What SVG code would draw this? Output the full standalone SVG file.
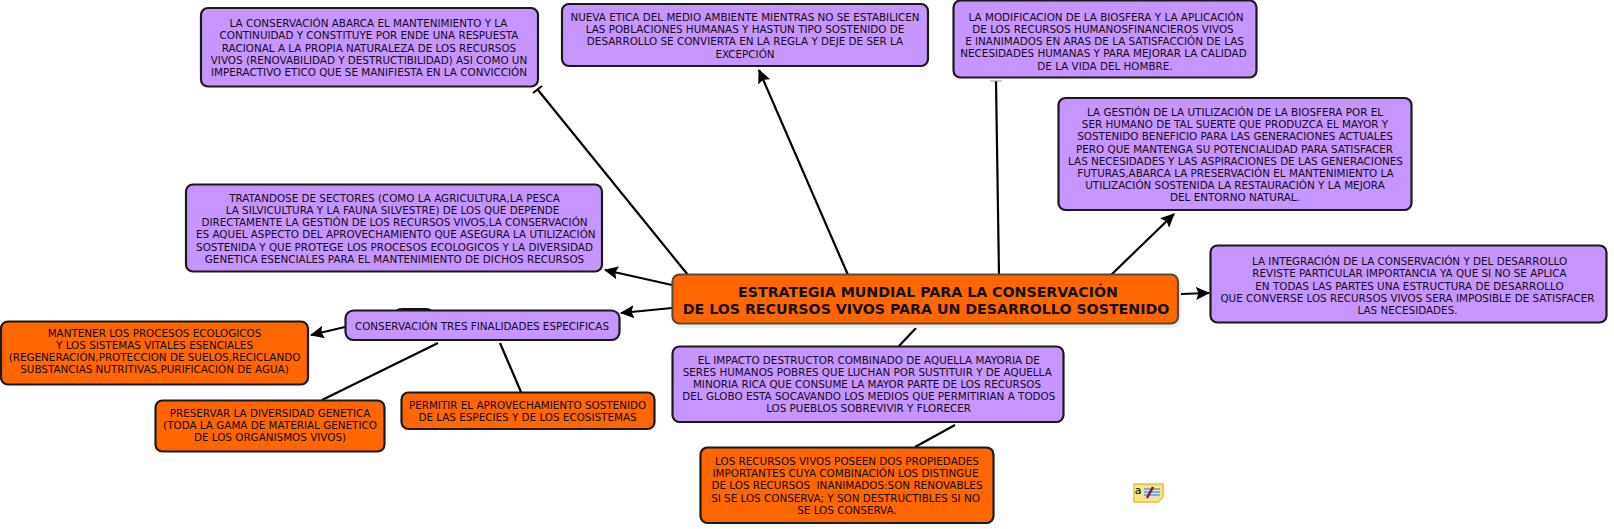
<svg xmlns="http://www.w3.org/2000/svg" width="1614" height="529" viewBox="0 0 1614 529">
<style>
.p{fill:#c596ff}.o{fill:#ff6600}
.b{stroke:#1a1a1a;stroke-width:2.2}
text{font-family:"DejaVu Sans",Verdana,sans-serif;font-size:10.38px;fill:#140a1e;text-anchor:middle;white-space:pre}
.t{font-weight:bold;font-size:14.2px;fill:#111}
.c line{stroke:#000;stroke-width:2.2}
.c .a{marker-end:url(#ah)}
</style>
<defs><marker id="ah" markerUnits="userSpaceOnUse" markerWidth="16" markerHeight="14" refX="13" refY="7" orient="auto"><path d="M0 0.500L14 7L0 13.500L2.500 7Z" fill="#000"/></marker></defs>
<g class="c" id="connectors">
<line x1="688" y1="275" x2="538" y2="90"/><path d="M533 93L542 86" stroke="#000" stroke-width="2.2" fill="none"/>
<line class="a" x1="848" y1="275" x2="759" y2="70"/>
<line x1="999" y1="275" x2="996" y2="81"/><path d="M990 81H1002" stroke="#999" stroke-width="1"/>
<line class="a" x1="1111" y1="275" x2="1174" y2="214"/>
<line class="a" x1="1181" y1="294" x2="1209" y2="293"/>
<line class="a" x1="672" y1="285" x2="605" y2="270"/>
<line class="a" x1="672" y1="308" x2="621" y2="313"/>
<line class="a" x1="345" y1="327" x2="311" y2="335"/>
<line x1="438" y1="343" x2="322" y2="400"/>
<line x1="500" y1="343" x2="521" y2="392"/>
<line x1="916" y1="328" x2="899" y2="346"/>
<line x1="955" y1="425" x2="915" y2="447"/>
<path d="M396 310Q398 308 402 308H426Q430 308 432 310Z" fill="#111"/>
</g>
<g id="n1"><rect class="p b" x="201" y="8" width="337" height="78.500" rx="7"/>
<text><tspan x="368.500" y="27">LA CONSERVACIÓN ABARCA EL MANTENIMIENTO Y LA</tspan><tspan x="369" y="39.300">CONTINUIDAD Y CONSTITUYE POR ENDE UNA RESPUESTA</tspan><tspan x="369" y="51.500">RACIONAL A LA PROPIA NATURALEZA DE LOS RECURSOS</tspan><tspan x="369" y="63.700">VIVOS (RENOVABILIDAD Y DESTRUCTIBILIDAD) ASI COMO UN</tspan><tspan x="369" y="75.900">IMPERACTIVO ETICO QUE SE MANIFIESTA EN LA CONVICCIÓN</tspan></text></g>
<g id="n2"><rect class="p b" x="562" y="4" width="366" height="62" rx="7"/>
<text><tspan x="745" y="21">NUEVA ETICA DEL MEDIO AMBIENTE MIENTRAS NO SE ESTABILICEN</tspan><tspan x="745" y="33">LAS POBLACIONES HUMANAS Y HASTUN TIPO SOSTENIDO DE</tspan><tspan x="745" y="45.200">DESARROLLO SE CONVIERTA EN LA REGLA Y DEJE DE SER LA</tspan><tspan x="745" y="57.500">EXCEPCIÓN</tspan></text></g>
<g id="n3"><rect class="p b" x="953.500" y="0.500" width="303" height="77" rx="7"/>
<text><tspan x="1106" y="21">LA MODIFICACION DE LA BIOSFERA Y LA APLICACIÓN</tspan><tspan x="1103" y="33">DE LOS RECURSOS HUMANOSFINANCIEROS VIVOS</tspan><tspan x="1104.500" y="45">E INANIMADOS EN ARAS DE LA SATISFACCIÓN DE LAS</tspan><tspan x="1103.500" y="57.200">NECESIDADES HUMANAS Y PARA MEJORAR LA CALIDAD</tspan><tspan x="1105" y="69.500">DE LA VIDA DEL HOMBRE.</tspan></text></g>
<g id="n4"><rect class="p b" x="1058.500" y="98" width="353" height="112" rx="7"/>
<text><tspan x="1235" y="116">LA GESTIÓN DE LA UTILIZACIÓN DE LA BIOSFERA POR EL</tspan><tspan x="1235" y="128.200">SER HUMANO DE TAL SUERTE QUE PRODUZCA EL MAYOR Y</tspan><tspan x="1235" y="140.400">SOSTENIDO BENEFICIO PARA LAS GENERACIONES ACTUALES</tspan><tspan x="1234.500" y="152.600">PERO QUE MANTENGA SU POTENCIALIDAD PARA SATISFACER</tspan><tspan x="1235.500" y="164.800">LAS NECESIDADES Y LAS ASPIRACIONES DE LAS GENERACIONES</tspan><tspan x="1235.500" y="177">FUTURAS,ABARCA LA PRESERVACIÓN EL MANTENIMIENTO LA</tspan><tspan x="1235" y="189.200">UTILIZACIÓN SOSTENIDA LA RESTAURACIÓN Y LA MEJORA</tspan><tspan x="1235" y="201.400">DEL ENTORNO NATURAL.</tspan></text></g>
<g id="n5"><rect class="p b" x="1210.500" y="245.500" width="396" height="77" rx="7"/>
<text><tspan x="1409.500" y="265">LA INTEGRACIÓN DE LA CONSERVACIÓN Y DEL DESARROLLO</tspan><tspan x="1409.500" y="277">REVISTE PARTICULAR IMPORTANCIA YA QUE SI NO SE APLICA</tspan><tspan x="1409.500" y="289.500">EN TODAS LAS PARTES UNA ESTRUCTURA DE DESARROLLO</tspan><tspan x="1407.500" y="301.500">QUE CONVERSE LOS RECURSOS VIVOS SERA IMPOSIBLE DE SATISFACER</tspan><tspan x="1407.500" y="313.500">LAS NECESIDADES.</tspan></text></g>
<g id="n6"><rect class="p b" x="186" y="184.500" width="416" height="87" rx="7"/>
<text><tspan x="394.500" y="202">TRATANDOSE DE SECTORES (COMO LA AGRICULTURA,LA PESCA</tspan><tspan x="392.500" y="214">LA SILVICULTURA Y LA FAUNA SILVESTRE) DE LOS QUE DEPENDE</tspan><tspan x="394.500" y="226.200">DIRECTAMENTE LA GESTIÓN DE LOS RECURSOS VIVOS,LA CONSERVACIÓN</tspan><tspan x="395.800" y="238.400">ES AQUEL ASPECTO DEL APROVECHAMIENTO QUE ASEGURA LA UTILIZACIÓN</tspan><tspan x="394.500" y="250.600">SOSTENIDA Y QUE PROTEGE LOS PROCESOS ECOLOGICOS Y LA DIVERSIDAD</tspan><tspan x="394.500" y="263">GENETICA ESENCIALES PARA EL MANTENIMIENTO DE DICHOS RECURSOS</tspan></text></g>
<g id="center"><rect x="675" y="278" width="506" height="50" rx="8" fill="#eeeeee"/><rect class="o" x="672.500" y="274.500" width="505.500" height="49" rx="7" stroke="#5a4a3c" stroke-width="2.200"/>
<text class="t"><tspan x="928" y="296.500">ESTRATEGIA MUNDIAL PARA LA CONSERVACIÓN</tspan><tspan x="926" y="313.500">DE LOS RECURSOS VIVOS PARA UN DESARROLLO SOSTENIDO</tspan></text></g>
<g id="cons"><rect class="p b" x="345.500" y="310.500" width="274" height="29.500" rx="8"/>
<text x="482" y="330">CONSERVACIÓN TRES FINALIDADES ESPECIFICAS</text></g>
<g id="m"><rect class="o b" x="1" y="321.500" width="307" height="63" rx="7"/>
<text><tspan x="154.500" y="337">MANTENER LOS PROCESOS ECOLOGICOS</tspan><tspan x="154.500" y="349">Y LOS SISTEMAS VITALES ESENCIALES</tspan><tspan x="154.500" y="361">(REGENERACIÓN,PROTECCION DE SUELOS,RECICLANDO</tspan><tspan x="154.500" y="373">SUBSTANCIAS NUTRITIVAS,PURIFICACIÓN DE AGUA)</tspan></text></g>
<g id="p"><rect class="o b" x="155.500" y="400.500" width="229" height="51" rx="7"/>
<text><tspan x="270" y="417">PRESERVAR LA DIVERSIDAD GENETICA</tspan><tspan x="270" y="429">(TODA LA GAMA DE MATERIAL GENETICO</tspan><tspan x="270" y="441">DE LOS ORGANISMOS VIVOS)</tspan></text></g>
<g id="pm"><rect class="o b" x="401.500" y="392.500" width="253" height="36.500" rx="7"/>
<text><tspan x="527.500" y="408.500">PERMITIR EL APROVECHAMIENTO SOSTENIDO</tspan><tspan x="527.500" y="420.500">DE LAS ESPECIES Y DE LOS ECOSISTEMAS</tspan></text></g>
<g id="impacto"><rect class="p b" x="672.500" y="346.500" width="391" height="75.500" rx="7"/>
<text><tspan x="868.800" y="363.500">EL IMPACTO DESTRUCTOR COMBINADO DE AQUELLA MAYORIA DE</tspan><tspan x="867.200" y="375.500">SERES HUMANOS POBRES QUE LUCHAN POR SUSTITUIR Y DE AQUELLA</tspan><tspan x="867" y="387.500">MINORIA RICA QUE CONSUME LA MAYOR PARTE DE LOS RECURSOS</tspan><tspan x="868.800" y="400">DEL GLOBO ESTA SOCAVANDO LOS MEDIOS QUE PERMITIRIAN A TODOS</tspan><tspan x="868.600" y="412">LOS PUEBLOS SOBREVIVIR Y FLORECER</tspan></text></g>
<g id="recursos"><rect class="o b" x="700.500" y="447.500" width="293" height="75.500" rx="7"/>
<text><tspan x="847" y="465">LOS RECURSOS VIVOS POSEEN DOS PROPIEDADES</tspan><tspan x="845.500" y="477">IMPORTANTES CUYA COMBINACIÓN LOS DISTINGUE</tspan><tspan x="847" y="489">DE LOS RECURSOS  INANIMADOS:SON RENOVABLES</tspan><tspan x="845.500" y="501.500">SI SE LOS CONSERVA; Y SON DESTRUCTIBLES SI NO</tspan><tspan x="847" y="513.500">SE LOS CONSERVA.</tspan></text></g>
<g id="icon"><path d="M1134 484H1163V497L1158 502H1134Z" fill="#ffe680" stroke="#e8c040" stroke-width="1.500"/><rect x="1143" y="487" width="17" height="11" fill="#cfe4f5"/><path d="M1144 489H1160M1144 492H1160M1144 495H1160" stroke="#3a6fb0"/><path d="M1147 498L1153 487" stroke="#802020" stroke-width="2.500"/><text x="1138" y="494" style="font-size:11px;fill:#000">a</text></g>
</svg>
